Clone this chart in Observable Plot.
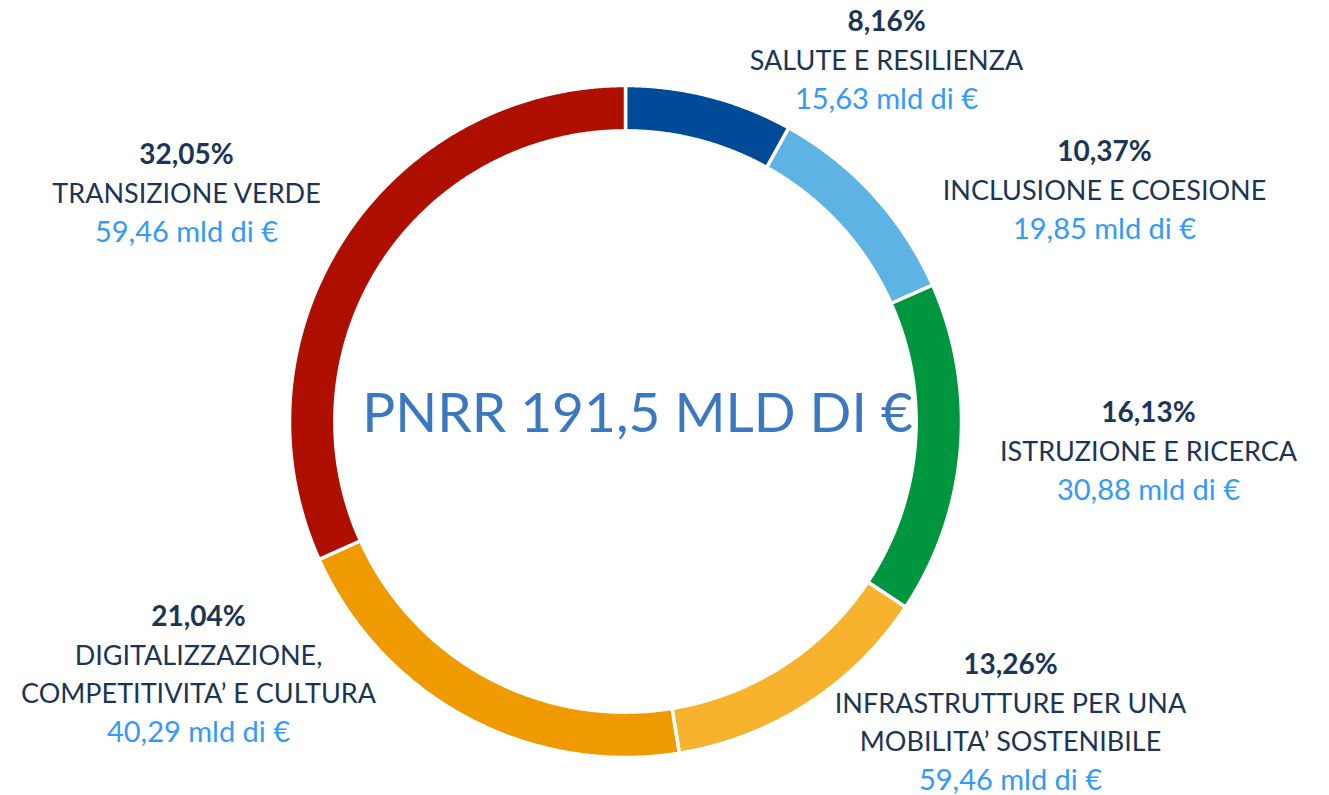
<!DOCTYPE html>
<html><head><meta charset="utf-8">
<script src="https://cdn.jsdelivr.net/npm/d3@7"></script>
<script src="https://cdn.jsdelivr.net/npm/@observablehq/plot@0.6"></script>
<style>body{margin:0;background:#fff;overflow:hidden}</style>
</head><body><div id="chart"></div>
<script>
// ---- data ----
const categories = ["SALUTE E RESILIENZA", "INCLUSIONE E COESIONE", "ISTRUZIONE E RICERCA", "INFRASTRUTTURE PER UNA\nMOBILITA’ SOSTENIBILE", "DIGITALIZZAZIONE,\nCOMPETITIVITA’ E CULTURA", "TRANSIZIONE VERDE"];
const shares = [8.16, 10.37, 16.13, 13.26, 21.04, 32.05];
const shareLabels = ["8,16%", "10,37%", "16,13%", "13,26%", "21,04%", "32,05%"];
const amountLabels = ["15,63 mld di €", "19,85 mld di €", "30,88 mld di €", "59,46 mld di €", "40,29 mld di €", "59,46 mld di €"];
const colors = ["#004A97", "#5DB3E3", "#00963F", "#F7B32D", "#EE9A00", "#AE0F00"];
const centerTitle = "PNRR 191,5 MLD DI €";

// ---- layout ----
const W = 1329, H = 795, cx = 625, cy = 421, R = 336, innerRatio = 0.865;
const labelTop = [[886, 22], [1104, 152], [1148, 413], [1010, 665], [198, 617], [186, 155]]; // px, first-line centre
const lineStep = 38.5;
const font = "Lato, 'Open Sans', sans-serif";
const toUx = px => (px - cx) / R, toUy = py => (cy - py) / R;

// ---- slices (polygon outlines from the shares) ----
const pie = d3.pie().sort(null).value(d => d)(shares);
const slicePts = [];
pie.forEach((p, i) => {
  const n = Math.max(8, Math.ceil((p.endAngle - p.startAngle) / 0.005));
  const pts = [];
  for (let k = 0; k <= n; k++) { const a = p.startAngle + (p.endAngle - p.startAngle) * k / n; pts.push([Math.sin(a), Math.cos(a)]); }
  for (let k = n; k >= 0; k--) { const a = p.startAngle + (p.endAngle - p.startAngle) * k / n; pts.push([innerRatio * Math.sin(a), innerRatio * Math.cos(a)]); }
  pts.push(pts[0]);
  pts.forEach(([x, y]) => slicePts.push({cat: categories[i], x, y}));
});

// ---- label lines ----
const lines = [];
categories.forEach((c, i) => {
  const [px, py] = labelTop[i];
  const names = c.split("\n");
  lines.push({kind: "pct", text: shareLabels[i], x: toUx(px), y: toUy(py)});
  names.forEach((t, k) => lines.push({kind: "name", text: t, x: toUx(px), y: toUy(py + lineStep * (k + 1))}));
  lines.push({kind: "amt", text: amountLabels[i], x: toUx(px), y: toUy(py + lineStep * (names.length + 1))});
});

const chart = Plot.plot({
  width: W, height: H, margin: 0,
  x: {domain: [toUx(0), toUx(W)], range: [0, W], axis: null},
  y: {domain: [toUy(0), toUy(H)], range: [0, H], axis: null},
  color: {domain: categories, range: colors},
  style: {fontFamily: font, background: "white"},
  marks: [
    Plot.line(slicePts, {x: "x", y: "y", z: "cat", fill: "cat", stroke: "white", strokeWidth: 3.5, curve: "linear"}),
    Plot.text([centerTitle], {x: () => toUx(637), y: () => toUy(414), text: d => d, fontSize: 55, fill: "#3B78C2", fontFamily: font}),
    Plot.text(lines.filter(d => d.kind === "pct"), {x: "x", y: "y", text: "text", fontSize: 28, fontWeight: "bold", fill: "#1C3556", fontFamily: font}),
    Plot.text(lines.filter(d => d.kind === "name"), {x: "x", y: "y", text: "text", fontSize: 27, fill: "#1C3556", fontFamily: font}),
    Plot.text(lines.filter(d => d.kind === "amt"), {x: "x", y: "y", text: "text", fontSize: 29, fill: "#3399FF", fontFamily: font})
  ]
});
document.getElementById("chart").appendChild(chart);
</script>
</body></html>
